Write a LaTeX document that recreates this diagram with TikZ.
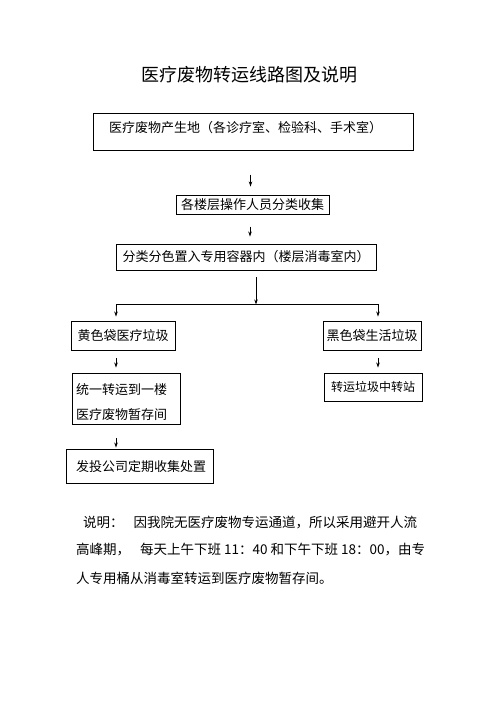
\documentclass[tikz,border=0pt]{standalone}
\usepackage{fontspec}
\setmainfont{Noto Sans CJK SC}
\usetikzlibrary{arrows.meta,calc}
\begin{document}
\begin{tikzpicture}[x=1pt,y=-1pt,
  box/.style={draw, line width=0.9pt, inner sep=0pt},
  arr/.style={-{Stealth[length=5pt,width=3.5pt]}, line width=0.8pt},
  ln/.style={line width=0.8pt},
  txt/.style={font=\fontsize{13}{15}\selectfont},
  desc/.style={font=\fontsize{13.5}{16}\selectfont, anchor=west, inner sep=0pt}]
\useasboundingbox[fill=white] (0,0) rectangle (500,708);
\node[font=\fontsize{18}{20}\selectfont] (title) at (249,75) {医疗废物转运线路图及说明};
% box 1
\node[box, minimum width=320, minimum height=37] (b1) at (253,131.5) {};
\node[txt, anchor=west, inner sep=0pt] (t1) at (109,128) {医疗废物产生地（各诊疗室、检验科、手术室）};
% box 2
\node[box, txt, minimum width=153, minimum height=19] (b2) at (252.5,204.5) {各楼层操作人员分类收集};
% box 3
\node[box, txt, minimum width=260, minimum height=26] (b3) at (246,257) {分类分色置入专用容器内（楼层消毒室内）};
% branches
\node[box, txt, minimum width=104, minimum height=29] (y1) at (123,335.5) {黄色袋医疗垃圾};
\node[box, txt, minimum width=98, minimum height=29] (k1) at (372,335.5) {黑色袋生活垃圾};
\node[box, minimum width=108, minimum height=51] (y2) at (126,398.5) {};
\node[txt, anchor=west, inner sep=0pt, align=left, font=\fontsize{13}{25}\selectfont] (t2) at (76,402.5) {统一转运到一楼\\医疗废物暂存间};
\node[box, minimum width=98, minimum height=28, font=\fontsize{12}{14}\selectfont] (k2) at (373,387) {转运垃圾中转站};
\node[box, minimum width=147, minimum height=34] (y3) at (139.5,466) {};
\node[txt, anchor=west, inner sep=0pt] (t3) at (76,467) {发投公司定期收集处置};
% arrows
\draw[arr] ($(b2.north)+(-2,-20)$) -- ($(b2.north)+(-2,-8)$);
\draw[arr] ($(b3.north)+(4,-17)$) -- ($(b3.north)+(4,-7)$);
\coordinate (sp) at ($(b3.south)+(10,34)$);
\coordinate (sl) at (116,304);
\coordinate (sr) at (378,304);
\draw[arr] ($(b3.south)+(10,7)$) -- (sp);
\draw[ln] (sl) -- (sr);
\draw[arr] (sl) -- ($(sl |- y1.north)+(0,-4)$);
\draw[arr] (sr) -- ($(sr |- k1.north)+(0,-4)$);
\draw[arr] ($(y1.south -| sl)+(0,8)$) -- ($(y2.north -| sl)+(0,-5)$);
\draw[arr] ($(k1.south -| sr)+(0,8)$) -- ($(k2.north -| sr)+(0,-5)$);
\draw[arr] ($(y2.south -| sl)+(0,14)$) -- ($(y3.north -| sl)+(0,-1)$);
% description
\node[desc] (d1) at (83,522) {说明：\hspace{10pt}因我院无医疗废物专运通道，所以采用避开人流};
\node[desc] (d2) at (76,550) {高峰期，\hspace{10pt}每天上午下班 11：40 和下午下班 18：00，由专};
\node[desc] (d3) at (76,578) {人专用桶从消毒室转运到医疗废物暂存间。};
\end{tikzpicture}
\end{document}
